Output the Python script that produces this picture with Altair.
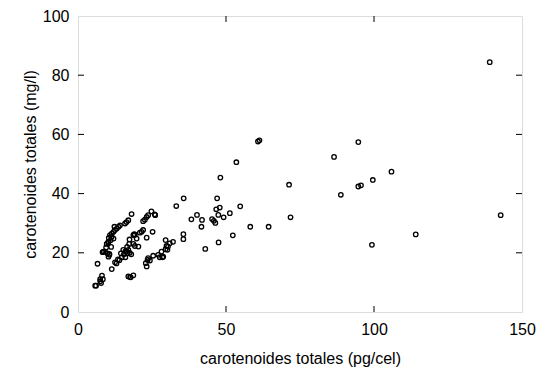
import altair as alt
import pandas as pd

# carotenoides totales (pg/cel)
x_pg_cel = [
    139.1, 142.8, 94.7, 86.5, 105.9, 99.6, 94.7, 95.6, 88.8, 114.1, 99.3,
    71.3, 71.8, 58.2, 64.4, 60.8, 61.3,
    53.5, 48.1, 35.7, 33.2, 47.0, 54.8, 46.7, 47.9, 47.4, 49.2, 51.3, 40.2,
    38.3, 41.9, 45.3, 45.9, 46.4, 41.7, 35.6, 35.6, 52.3, 47.5, 43.0,
    18.1, 24.8, 26.1, 25.9, 23.7, 23.2, 22.6, 22.0,
    17.0, 16.4, 15.9, 14.2, 13.7, 13.1, 12.5, 12.3, 12.0, 11.4, 10.8, 11.4,
    10.3, 9.7, 9.5, 8.6, 10.6, 9.9, 10.3, 8.3, 9.2, 10.6,
    6.6, 8.1, 7.5, 7.8, 8.4, 7.5, 5.8, 6.1, 11.4,
    19.2, 19.8, 18.7, 19.2, 20.4, 19.0, 18.7, 21.5, 22.0, 20.9, 25.2, 23.2,
    17.0, 17.6, 18.7, 17.8,
    23.2, 22.9, 23.5, 23.7, 25.4, 24.3,
    27.1, 28.2, 28.8, 27.6, 29.6, 29.9, 30.2, 31.0, 32.1, 30.4, 29.6, 28.5,
    17.4, 16.4, 17.0, 17.5, 18.0, 16.8,
    13.0, 14.0, 14.8, 15.5, 16.0, 15.3, 14.5, 13.5, 12.5, 16.6, 17.3, 16.0,
    10.4, 11.0, 10.2, 12.0, 11.2,
]
# carotenoides totales (mg/l)
y_mg_l = [
    84.4, 32.7, 57.4, 52.4, 47.4, 44.6, 42.4, 42.8, 39.6, 26.2, 22.7,
    43.0, 32.0, 28.8, 28.8, 57.6, 58.0,
    50.6, 45.4, 38.4, 35.8, 38.4, 35.7, 34.7, 35.3, 32.8, 32.0, 33.4, 32.8,
    31.3, 31.1, 31.4, 30.8, 30.1, 28.8, 26.3, 24.6, 25.9, 23.5, 21.3,
    33.1, 34.0, 32.7, 33.0, 32.7, 32.1, 31.2, 30.7,
    31.0, 30.4, 29.9, 29.3, 28.8, 28.2, 27.7, 28.8, 27.1, 26.5, 26.0, 25.4,
    23.7, 23.0, 21.8, 20.4, 19.6, 19.8, 18.7, 20.2, 20.4, 19.3,
    16.3, 12.3, 11.1, 9.8, 11.1, 10.4, 8.9, 8.9, 14.5,
    26.1, 24.8, 23.0, 22.3, 22.1, 26.3, 26.0, 27.1, 27.7, 26.8, 27.1, 25.1,
    12.0, 11.8, 12.4, 11.7,
    15.4, 16.5, 17.6, 18.2, 19.0, 17.4,
    19.3, 20.4, 18.7, 18.5, 24.3, 22.3, 21.0, 23.2, 23.7, 22.1, 21.2, 18.5,
    24.5, 20.5, 21.0, 20.0, 19.5, 19.8,
    16.4, 17.5, 18.5, 19.5, 20.5, 21.0, 19.8, 17.8, 16.8, 22.0, 23.0, 18.5,
    25.0, 24.2, 23.5, 24.8, 22.0,
]

x_ticks = [0, 50, 100, 150]
y_ticks = [0, 20, 40, 60, 80, 100]
x_inner_ticks = [50, 100]
y_inner_ticks = [20, 40, 60, 80]

W, H = 444, 296
FONT = "Liberation Sans"

df = pd.DataFrame({"x": x_pg_cel, "y": y_mg_l})

xscale = alt.Scale(domain=[0, 150], nice=False, zero=True)
yscale = alt.Scale(domain=[0, 100], nice=False, zero=True)

points = alt.Chart(df).mark_point(
    shape="circle", filled=False, color="black", size=20, strokeWidth=1.3, opacity=1
).encode(
    x=alt.X("x:Q", scale=xscale, axis=alt.Axis(
        title="carotenoides totales (pg/cel)", values=x_ticks, ticks=False,
        domain=False, grid=False, labelPadding=9, labelFontSize=16,
        labelFont=FONT, labelColor="black", titleFont=FONT, titleFontSize=16,
        titleFontWeight="normal", titleColor="black", titleY=46,
        titleBaseline="middle", labelFlush=False)),
    y=alt.Y("y:Q", scale=yscale, axis=alt.Axis(
        title="carotenoides totales (mg/l)", values=y_ticks, ticks=False,
        domain=False, grid=False, labelPadding=9, labelFontSize=16,
        labelFont=FONT, labelColor="black", titleFont=FONT, titleFontSize=16,
        titleFontWeight="normal", titleColor="black", titleX=-48, titleY=H / 2,
        titleAngle=-90, titleAlign="center", titleBaseline="middle",
        labelFlush=False)),
)

ydf = pd.DataFrame({"t": y_inner_ticks})
xdf = pd.DataFrame({"t": x_inner_ticks})

yl = alt.Chart(ydf).mark_rule(color="black", strokeWidth=1).encode(
    y=alt.Y("t:Q", scale=yscale), x=alt.value(0), x2=alt.value(6))
yr = alt.Chart(ydf).mark_rule(color="black", strokeWidth=1).encode(
    y=alt.Y("t:Q", scale=yscale), x=alt.value(W - 6), x2=alt.value(W))
xb = alt.Chart(xdf).mark_rule(color="black", strokeWidth=1).encode(
    x=alt.X("t:Q", scale=xscale), y=alt.value(H), y2=alt.value(H - 6))
xt = alt.Chart(xdf).mark_rule(color="black", strokeWidth=1).encode(
    x=alt.X("t:Q", scale=xscale), y=alt.value(0), y2=alt.value(6))

chart = alt.layer(points, yl, yr, xb, xt).properties(
    width=W, height=H,
    autosize=alt.AutoSizeParams(type="none"),
    padding={"left": 70, "top": 8, "right": 14, "bottom": 56},
).configure_view(stroke="black", strokeWidth=1.2).configure(background="white")

chart.save("out.html", embed_options={"renderer": "svg", "actions": False})
